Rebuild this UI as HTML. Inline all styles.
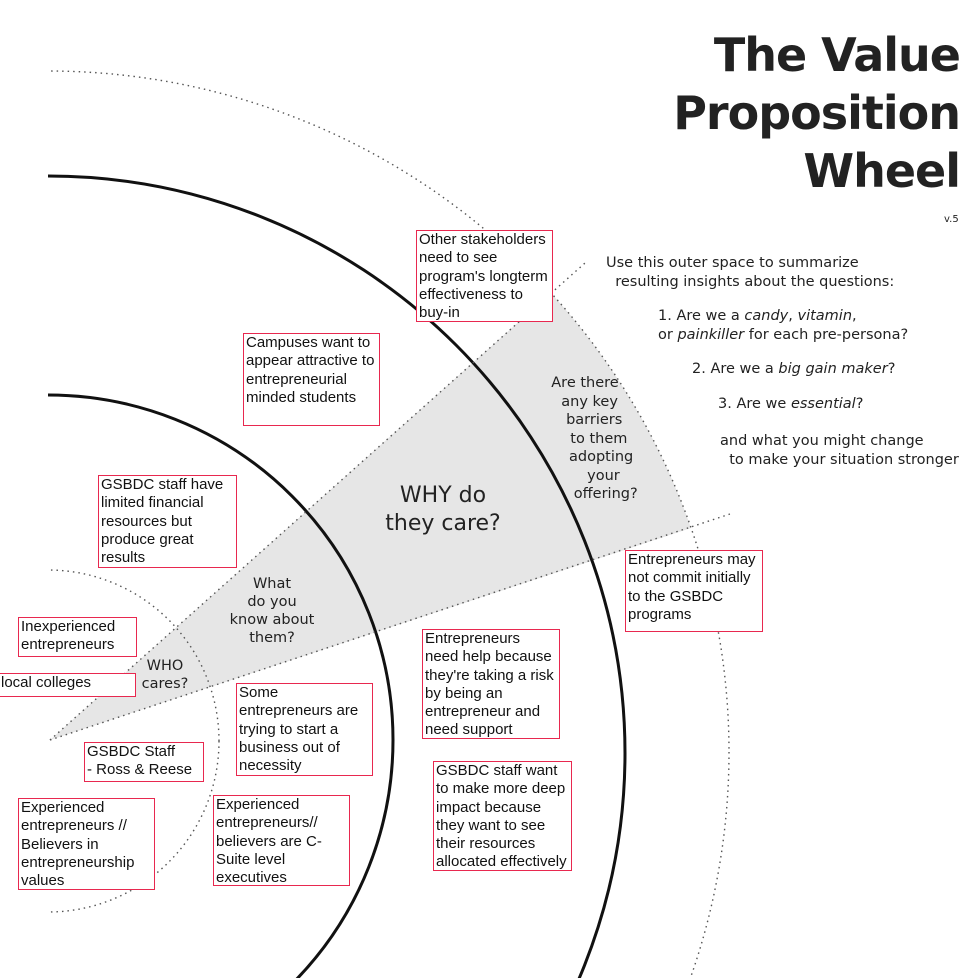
<!DOCTYPE html>
<html><head><meta charset="utf-8"><style>
body{margin:0;width:980px;height:978px;background:#fff;position:relative;overflow:hidden;font-family:"Liberation Sans",sans-serif;color:#111}
.b{position:absolute;border:1.5px solid #e8284f;background:#fff;font-size:15px;line-height:18.3px;padding:0 2px;box-sizing:border-box;overflow:hidden}
.t{position:absolute;font-family:"DejaVu Sans","Liberation Sans",sans-serif;color:#222;text-align:center}
</style></head><body>
<svg width="980" height="978" style="position:absolute;left:0;top:0">
<defs><clipPath id="c"><rect x="48" y="0" width="940" height="978"/></clipPath></defs>
<path d="M50,740 L551,293 A681,681 0 0 1 691,528 Z" fill="#e6e6e6"/>
<g clip-path="url(#c)">
<g fill="none" stroke="#555" stroke-width="1.4" stroke-dasharray="1.5,4">
<circle cx="48" cy="752" r="681"/>
<circle cx="48" cy="741" r="171"/>
</g>
<g fill="none" stroke="#111" stroke-width="3">
<circle cx="48" cy="753" r="577"/>
<circle cx="48" cy="740" r="345"/>
</g>
</g>
<g fill="none" stroke="#555" stroke-width="1.4" stroke-dasharray="1.5,4">
<line x1="50" y1="740" x2="585" y2="263"/>
<line x1="50" y1="740" x2="730" y2="514"/>
</g>
</svg>
<div class="t" style="right:20px;top:26px;text-align:right;font-family:'DejaVu Sans',sans-serif;font-weight:bold;font-size:46px;line-height:58px;letter-spacing:-1px">The Value<br>Proposition<br>Wheel</div>
<div class="t" style="left:944px;top:214px;font-size:10px">v.5</div>
<div class="t" style="left:606px;top:254px;font-size:14.5px;text-align:left;line-height:19px">Use this outer space to summarize<br>&nbsp;&nbsp;resulting insights about the questions:</div>
<div class="t" style="left:658px;top:307px;font-size:14.5px;text-align:left;line-height:19px">1. Are we a <i>candy</i>, <i>vitamin</i>,<br>or <i>painkiller</i> for each pre-persona?</div>
<div class="t" style="left:692px;top:361px;font-size:14.5px;text-align:left">2. Are we a <i>big gain maker</i>?</div>
<div class="t" style="left:718px;top:396px;font-size:14.5px;text-align:left">3. Are we <i>essential</i>?</div>
<div class="t" style="left:720px;top:432px;font-size:14.5px;text-align:left;line-height:19px">and what you might change<br>&nbsp;&nbsp;to make your situation stronger</div>
<div class="t" style="left:510px;top:374px;width:150px;font-size:14.5px;line-height:18.5px">Are there<br>&nbsp;&nbsp;any key<br>&nbsp;&nbsp;&nbsp;&nbsp;barriers<br>&nbsp;&nbsp;&nbsp;&nbsp;&nbsp;&nbsp;to them<br>&nbsp;&nbsp;&nbsp;&nbsp;&nbsp;&nbsp;&nbsp;adopting<br>&nbsp;&nbsp;&nbsp;&nbsp;&nbsp;&nbsp;&nbsp;&nbsp;your<br>&nbsp;&nbsp;&nbsp;&nbsp;&nbsp;&nbsp;&nbsp;&nbsp;&nbsp;offering?</div>
<div class="t" style="left:368px;top:482px;width:150px;font-size:22px;line-height:28px">WHY do<br>they care?</div>
<div class="t" style="left:212px;top:575px;width:120px;font-size:14.5px;line-height:18px">What<br>do you<br>know about<br>them?</div>
<div class="t" style="left:130px;top:657px;width:70px;font-size:14.5px;line-height:18px">WHO<br>cares?</div>
<div class="b" style="left:416px;top:230px;width:137px;height:92px">Other stakeholders need to see program's longterm effectiveness to buy-in</div>
<div class="b" style="left:243px;top:333px;width:137px;height:93px">Campuses want to appear attractive to entrepreneurial minded students</div>
<div class="b" style="left:98px;top:475px;width:139px;height:93px">GSBDC staff have limited financial resources but produce great results</div>
<div class="b" style="left:625px;top:550px;width:138px;height:82px">Entrepreneurs may not commit initially to the GSBDC programs</div>
<div class="b" style="left:18px;top:617px;width:119px;height:40px">Inexperienced entrepreneurs</div>
<div class="b" style="left:-2px;top:673px;width:138px;height:24px">local colleges</div>
<div class="b" style="left:422px;top:629px;width:138px;height:110px">Entrepreneurs<br>need help because they're taking a risk by being an entrepreneur and need support</div>
<div class="b" style="left:236px;top:683px;width:137px;height:93px">Some entrepreneurs are trying to start a business out of necessity</div>
<div class="b" style="left:84px;top:742px;width:120px;height:40px">GSBDC Staff<br>- Ross &amp; Reese</div>
<div class="b" style="left:18px;top:798px;width:137px;height:92px">Experienced entrepreneurs // Believers in entrepreneurship values</div>
<div class="b" style="left:213px;top:795px;width:137px;height:91px">Experienced entrepreneurs// believers are C-Suite level executives</div>
<div class="b" style="left:433px;top:761px;width:139px;height:110px">GSBDC staff want to make more deep impact because they want to see their resources allocated effectively</div>
</body></html>
